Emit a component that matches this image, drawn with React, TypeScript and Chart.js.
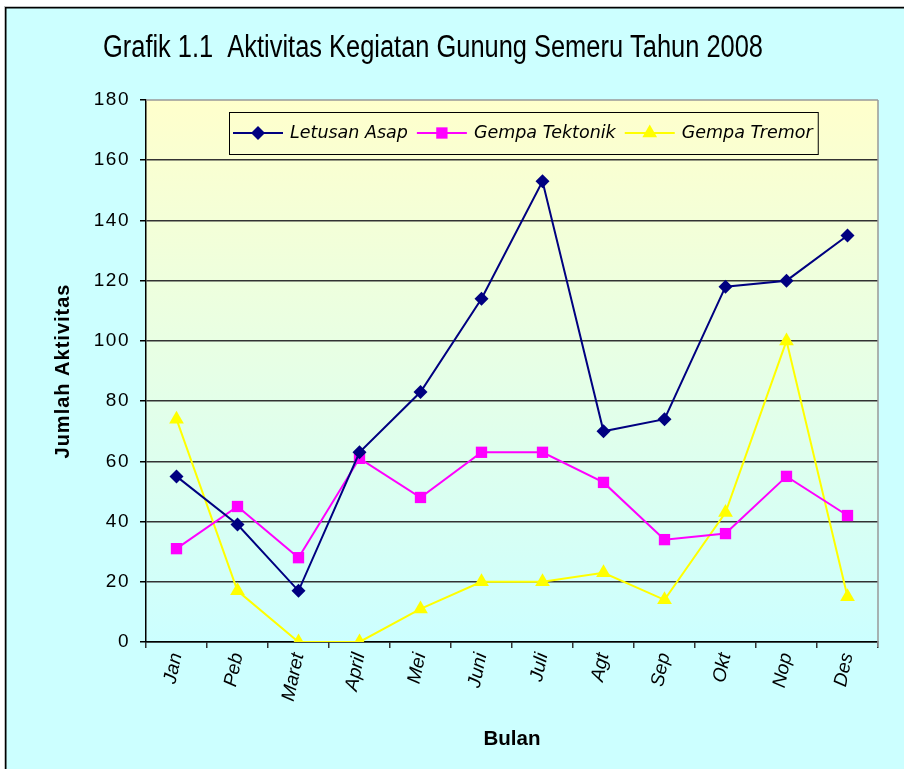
import React, { useEffect, useRef } from "react";
import { Chart, registerables } from "chart.js";

Chart.register(...registerables);

const TITLE = "Grafik 1.1  Aktivitas Kegiatan Gunung Semeru Tahun 2008";
const X_TITLE = "Bulan";
const Y_TITLE = "Jumlah Aktivitas";

const months = ["Jan", "Peb", "Maret", "April", "Mei", "Juni", "Juli", "Agt", "Sep", "Okt", "Nop", "Des"];

const letusanAsap = [55, 39, 17, 63, 83, 114, 153, 70, 74, 118, 120, 135];
const gempaTektonik = [31, 45, 28, 61, 48, 63, 63, 53, 34, 36, 55, 42];
const gempaTremor = [74, 17, 0, 0, 11, 20, 20, 23, 14, 43, 100, 15];

const seriesNames = ["Letusan Asap", "Gempa Tektonik", "Gempa Tremor"];
const seriesColors = ["#000080", "#FF00FF", "#FFFF00"];
const seriesStyles = ["rectRot", "rect", "triangle"];
const seriesRadius = [7, 8, 8.5];

const Y_MIN = 0;
const Y_MAX = 180;
const Y_STEP = 20;

function drawMarker(ctx: CanvasRenderingContext2D, style: string, x: number, y: number, r: number, color: string) {
  ctx.save();
  ctx.fillStyle = color;
  ctx.beginPath();
  if (style === "rectRot") {
    ctx.moveTo(x - r, y);
    ctx.lineTo(x, y - r);
    ctx.lineTo(x + r, y);
    ctx.lineTo(x, y + r);
  } else if (style === "rect") {
    const s = Math.SQRT1_2 * r;
    ctx.rect(x - s, y - s, 2 * s, 2 * s);
  } else {
    const a = (2 * Math.PI) / 3;
    ctx.moveTo(x, y - r);
    ctx.lineTo(x + Math.sin(a) * r, y - Math.cos(a) * r);
    ctx.lineTo(x + Math.sin(2 * a) * r, y - Math.cos(2 * a) * r);
  }
  ctx.closePath();
  ctx.fill();
  ctx.restore();
}

const decorPlugin = {
  id: "decor",
  beforeDraw(chart: any) {
    const { ctx, chartArea } = chart;
    const W = chart.width;
    const H = chart.height;
    ctx.save();
    ctx.fillStyle = "#FFFFFF";
    ctx.fillRect(0, 0, W, H);
    ctx.fillStyle = "#CCFFFF";
    ctx.fillRect(5, 7, W - 5, H - 7);
    ctx.fillStyle = "#C0C0C0";
    ctx.fillRect(4, 6, W - 4, 1);
    ctx.fillRect(4, 6, 1, H - 6);
    ctx.fillStyle = "#000000";
    ctx.fillRect(5, 7, W - 5, 1.5);
    ctx.fillRect(5, 7, 1.5, H - 7);
    const g = ctx.createLinearGradient(0, chartArea.top, 0, chartArea.bottom);
    g.addColorStop(0, "#FFFFCC");
    g.addColorStop(0.5, "#E6FFE6");
    g.addColorStop(1, "#CCFFFF");
    ctx.fillStyle = g;
    ctx.fillRect(chartArea.left, chartArea.top, chartArea.right - chartArea.left, chartArea.bottom - chartArea.top);
    ctx.restore();
  },
  beforeDatasetsDraw(chart: any) {
    const { ctx, chartArea } = chart;
    ctx.save();
    ctx.strokeStyle = "#999999";
    ctx.lineWidth = 1.5;
    ctx.beginPath();
    ctx.moveTo(chartArea.left, chartArea.top);
    ctx.lineTo(chartArea.right, chartArea.top);
    ctx.moveTo(chartArea.right, chartArea.top);
    ctx.lineTo(chartArea.right, chartArea.bottom + 5);
    ctx.stroke();
    ctx.restore();
  },
  afterDraw(chart: any) {
    const { ctx, chartArea } = chart;
    const yScale = chart.scales.y;
    ctx.save();
    // title
    ctx.fillStyle = "#000000";
    ctx.font = '31px "Liberation Sans", Arial, sans-serif';
    ctx.textAlign = "left";
    ctx.textBaseline = "alphabetic";
    ctx.fillText(TITLE, 103, 57, 660);

    // y tick labels
    ctx.font = '19px "Liberation Sans", Arial, sans-serif';
    (ctx as any).letterSpacing = "1.5px";
    ctx.textAlign = "right";
    ctx.textBaseline = "middle";
    yScale.ticks.forEach((t: any) => {
      const py = yScale.getPixelForValue(t.value);
      ctx.fillText(String(t.value), 130, py);
    });

    // y title
    ctx.font = 'bold 20px "Liberation Sans", Arial, sans-serif';
    (ctx as any).letterSpacing = "1px";
    ctx.save();
    ctx.translate(63, (chartArea.top + chartArea.bottom) / 2);
    ctx.rotate(-Math.PI / 2);
    ctx.textAlign = "center";
    ctx.textBaseline = "middle";
    ctx.fillText(Y_TITLE, 0, 0);
    ctx.restore();

    // x title
    (ctx as any).letterSpacing = "0px";
    ctx.font = 'bold 21px "Liberation Sans", Arial, sans-serif';
    ctx.textAlign = "center";
    ctx.textBaseline = "middle";
    ctx.fillText(X_TITLE, (chartArea.left + chartArea.right) / 2, 739, 57);

    // legend
    ctx.font = 'italic 17.5px "DejaVu Sans", Verdana, sans-serif';
    ctx.textAlign = "left";
    ctx.textBaseline = "middle";
    const boxLeft = 229;
    const boxTop = 112;
    const boxH = 42;
    const cy = boxTop + boxH / 2;
    let x = boxLeft + 4;
    seriesNames.forEach((name, i) => {
      ctx.strokeStyle = seriesColors[i];
      ctx.lineWidth = 2;
      ctx.beginPath();
      ctx.moveTo(x, cy);
      ctx.lineTo(x + 50, cy);
      ctx.stroke();
      drawMarker(ctx, seriesStyles[i], x + 25, cy, seriesRadius[i], seriesColors[i]);
      x += 57;
      ctx.fillStyle = "#000000";
      ctx.fillText(name, x, cy);
      x += ctx.measureText(name).width + 9;
    });
    const boxRight = x - 4;
    ctx.strokeStyle = "#000000";
    ctx.lineWidth = 1;
    ctx.strokeRect(boxLeft + 0.5, boxTop + 0.5, boxRight - boxLeft, boxH);
    ctx.restore();
  },
};

export default function App() {
  const canvasRef = useRef<HTMLCanvasElement | null>(null);

  useEffect(() => {
    const canvas = canvasRef.current;
    if (!canvas) return;
    const datasets = [letusanAsap, gempaTektonik, gempaTremor].map((data, i) => ({
      label: seriesNames[i],
      data,
      borderColor: seriesColors[i],
      backgroundColor: seriesColors[i],
      borderWidth: 2,
      pointStyle: seriesStyles[i],
      pointRadius: seriesRadius[i],
      pointHoverRadius: seriesRadius[i],
      pointBorderWidth: 0,
      tension: 0,
      fill: false,
    }));
    const chart = new Chart(canvas, {
      type: "line",
      data: { labels: months, datasets },
      plugins: [decorPlugin],
      options: {
        animation: false,
        responsive: false,
        maintainAspectRatio: false,
        layout: { padding: { top: 100, right: 26, bottom: 0, left: 0 } },
        plugins: {
          legend: { display: false },
          title: { display: false },
          tooltip: { enabled: false },
        },
        scales: {
          x: {
            type: "category",
            offset: true,
            grid: {
              display: true,
              drawOnChartArea: false,
              offset: true,
              tickLength: 6,
              tickColor: "#333333",
              lineWidth: 1.5,
            },
            border: { display: true, color: "#000000", width: 1.5 },
            ticks: {
              autoSkip: false,
              maxRotation: 78,
              minRotation: 78,
              padding: 3,
              color: "#000000",
              font: { family: '"Liberation Sans", Arial, sans-serif', size: 19, style: "italic" },
            },
            afterFit: (scale: any) => {
              scale.height = 127;
            },
          },
          y: {
            min: Y_MIN,
            max: Y_MAX,
            grid: {
              color: (c: any) => (c.tick && c.tick.value === Y_MAX ? "rgba(0,0,0,0)" : "#333333"),
              lineWidth: 1.5,
              tickLength: 6,
              tickColor: "#000000",
            },
            border: { display: true, color: "#000000", width: 1.5 },
            ticks: {
              stepSize: Y_STEP,
              color: "rgba(0,0,0,0)",
              font: { size: 17 },
            },
            afterFit: (scale: any) => {
              scale.width = 146;
            },
          },
        },
      },
    });
    return () => chart.destroy();
  }, []);

  return (
    <div style={{ position: "absolute", left: 0, top: 0, width: 904, height: 769 }}>
      <canvas ref={canvasRef} width={904} height={769} style={{ width: 904, height: 769, display: "block" }} />
    </div>
  );
}
